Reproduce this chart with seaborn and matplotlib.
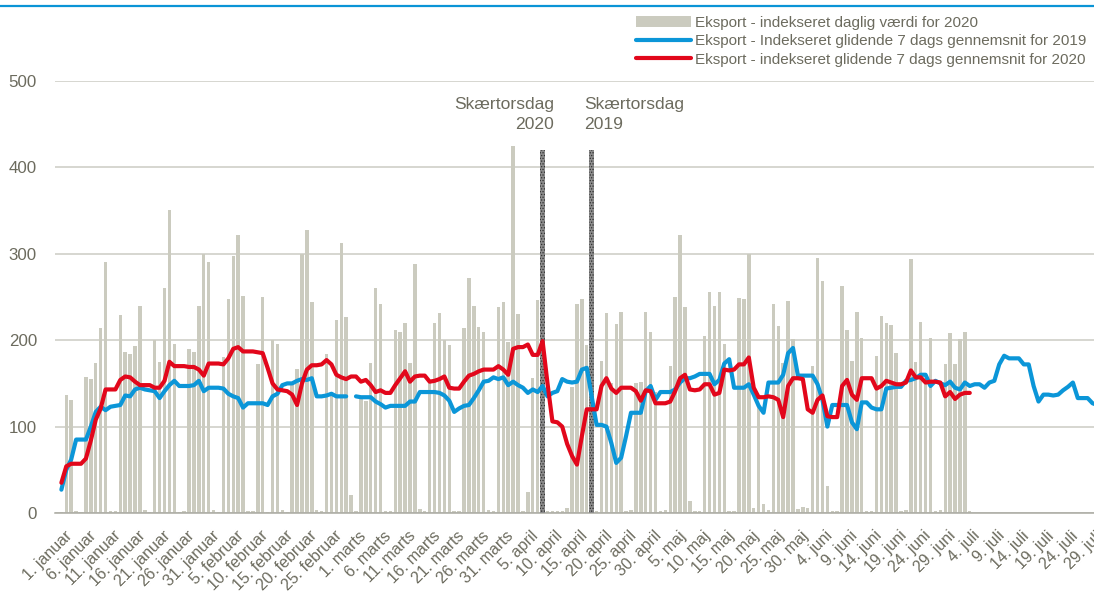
import matplotlib
matplotlib.use('Agg')
import matplotlib.pyplot as plt
from matplotlib.lines import Line2D
from matplotlib.patches import Patch
from matplotlib.transforms import ScaledTranslation
import seaborn as sns
import pandas as pd
import numpy as np

# daily export index 2020 (1 jan - 4 jul)
daily_2020 = [1, 137, 131, 2, 1, 157, 155, 174, 214, 290, 2, 2, 229, 186, 184, 193, 240, 3, 1, 200,
              175, 260, 351, 196, 1, 2, 190, 186, 240, 300, 291, 3, 1, 181, 248, 298, 322, 251, 2, 2,
              173, 250, 1, 200, 196, 3, 1, 150, 167, 300, 328, 244, 4, 2, 184, 140, 223, 313, 227, 21,
              2, 133, 130, 174, 260, 242, 2, 2, 212, 209, 220, 174, 288, 5, 2, 150, 220, 231, 200, 194,
              2, 2, 214, 272, 240, 215, 210, 3, 2, 238, 244, 198, 425, 230, 2, 24, 156, 247, 200, 2,
              2, 2, 2, 6, 146, 242, 248, 194, 2, 2, 176, 231, 150, 219, 233, 2, 3, 150, 152, 233,
              210, 140, 2, 3, 170, 250, 322, 239, 14, 2, 2, 205, 256, 240, 256, 196, 2, 2, 249, 248,
              300, 6, 125, 10, 3, 242, 217, 174, 245, 201, 5, 7, 6, 170, 295, 269, 31, 2, 2, 263,
              212, 176, 233, 202, 2, 2, 182, 228, 220, 218, 185, 2, 3, 294, 175, 221, 155, 203, 2, 3,
              172, 208, 173, 201, 210, 2]

# 7 day moving average 2020
avg_2020 = [35, 54, 57, 57, 57, 63, 84, 108, 121, 143, 143, 143, 154, 158, 157, 152, 148, 148, 148, 145,
            145, 153, 175, 170, 170, 170, 169, 169, 166, 159, 173, 173, 173, 172, 179, 190, 192, 187, 187, 187,
            186, 185, 168, 150, 143, 142, 141, 137, 125, 150, 166, 171, 171, 172, 177, 172, 160, 157, 155, 158,
            158, 152, 154, 148, 140, 142, 139, 139, 148, 156, 164, 152, 158, 159, 159, 152, 153, 155, 158, 145,
            144, 144, 152, 159, 161, 164, 166, 166, 166, 170, 166, 160, 190, 192, 192, 195, 183, 183, 199, 150,
            106, 105, 100, 80, 66, 56, 89, 120, 120, 120, 147, 156, 144, 139, 145, 145, 145, 141, 130, 142,
            141, 127, 127, 127, 129, 141, 156, 160, 143, 142, 143, 149, 149, 137, 139, 166, 165, 166, 172, 172,
            180, 145, 134, 134, 135, 134, 131, 111, 147, 156, 156, 155, 120, 116, 131, 136, 112, 111, 111, 147,
            154, 137, 131, 156, 156, 156, 144, 147, 153, 151, 149, 149, 151, 165, 157, 157, 151, 152, 152, 151,
            135, 140, 132, 137, 139, 139]

# 7 day moving average 2019 (no 29 feb)
avg_2019 = [27, 50, 62, 85, 85, 85, 100, 117, 123, 119, 123, 124, 125, 136, 135, 143, 145, 143, 142, 141,
            133, 141, 148, 153, 147, 147, 147, 148, 153, 141, 145, 145, 145, 144, 138, 135, 133, 122, 127, 127,
            127, 127, 125, 135, 138, 148, 150, 150, 153, 155, 154, 156, 135, 135, 136, 138, 135, 135, 135, np.nan,
            135, 134, 134, 134, 129, 126, 122, 124, 124, 124, 124, 129, 129, 140, 140, 140, 140, 139, 136, 130,
            117, 121, 124, 125, 133, 142, 152, 153, 157, 155, 157, 148, 152, 148, 145, 139, 143, 140, 147, 135,
            139, 141, 155, 152, 151, 152, 166, 168, 135, 102, 102, 100, 81, 58, 64, 89, 116, 116, 116, 141,
            147, 131, 140, 140, 140, 143, 151, 156, 156, 158, 161, 161, 161, 149, 154, 173, 178, 145, 145, 145,
            149, 137, 124, 116, 151, 151, 151, 160, 185, 191, 159, 159, 159, 159, 149, 131, 100, 125, 125, 125,
            125, 105, 97, 128, 128, 122, 120, 120, 144, 145, 146, 146, 153, 154, 156, 160, 160, 147, 153, 150,
            148, 152, 145, 143, 151, 147, 149, 149, 145, 151, 153, 172, 182, 179, 179, 179, 172, 172, 147, 129,
            137, 137, 136, 137, 142, 146, 151, 133, 133, 133, 127, 125]

tick_labels = ['1. januar', '6. januar', '11. januar', '16. januar', '21. januar', '26. januar',
               '31. januar', '5. februar', '10. februar', '15. februar', '20. februar', '25. februar',
               '1. marts', '6. marts', '11. marts', '16. marts', '21. marts', '26. marts', '31. marts',
               '5. april', '10. april', '15. april', '20. april', '25. april', '30. april',
               '5. maj', '10. maj', '15. maj', '20. maj', '25. maj', '30. maj',
               '4. juni', '9. juni', '14. juni', '19. juni', '24. juni', '29. juni',
               '4. juli', '9. juli', '14. juli', '19. juli', '24. juli', '29. juli']

skaertorsdag_days = [98, 108]
skaertorsdag_height = [420, 420]
skaertorsdag_text = ['Skærtorsdag\n2020', 'Skærtorsdag\n2019']

GREY_BAR = '#cbcbbf'
BLUE = '#0b96d8'
RED = '#e2071b'
TXT = '#6c6b5e'

sns.set_theme(style='white')
plt.rcParams['font.family'] = ['Liberation Sans', 'DejaVu Sans']
plt.rcParams['hatch.linewidth'] = 0.6

df_bar = pd.DataFrame({'day': np.arange(len(daily_2020)), 'val': daily_2020})
df_red = pd.DataFrame({'day': np.arange(len(avg_2020)), 'val': avg_2020})
df_blue = pd.DataFrame({'day': np.arange(len(avg_2019)), 'val': avg_2019})
# split the 2019 line at the missing leap day so it shows a gap
df_blue['seg'] = df_blue['val'].isna().cumsum()
df_blue = df_blue.dropna()

fig = plt.figure(figsize=(10.94, 5.96), dpi=100)
ax = fig.add_axes([55 / 1094, 83 / 596, 1039 / 1094, 432 / 596])

sns.barplot(data=df_bar, x='day', y='val', native_scale=True, width=0.7, color=GREY_BAR,
            saturation=1, errorbar=None, linewidth=0, ax=ax)

ax.bar(skaertorsdag_days, skaertorsdag_height, width=0.9, color='#8c8c8c', edgecolor='#2e2e2e',
       hatch='......', linewidth=0, zorder=3)

sns.lineplot(data=df_blue, x='day', y='val', units='seg', estimator=None, color=BLUE,
             linewidth=3.0, solid_joinstyle='round', ax=ax, zorder=4)
sns.lineplot(data=df_red, x='day', y='val', color=RED, linewidth=3.0,
             solid_joinstyle='round', ax=ax, zorder=5)

ax.text(100.3, 481, skaertorsdag_text[0], ha='right', va='top', fontsize=12.6,
        color=TXT, linespacing=1.35)
ax.text(106.4, 481, skaertorsdag_text[1], ha='left', va='top', fontsize=12.6,
        color=TXT, linespacing=1.35)

ax.set_xlim(-1.3, 210.3)
ax.set_ylim(0, 500)
ax.set_yticks(range(0, 501, 100))
ax.set_xticks(np.arange(len(tick_labels)) * 5)
ax.set_xticklabels(tick_labels, rotation=45, ha='right', va='center', rotation_mode='anchor')
ax.tick_params(axis='x', length=0, pad=9, labelsize=11.5, labelcolor=TXT)
ax.tick_params(axis='y', length=0, pad=13, labelsize=12.2, labelcolor=TXT)
ax.set_xlabel('')
ax.set_ylabel('')

# nudge the slanted date labels down/right like the original
shift = ScaledTranslation(0.08, -0.08, fig.dpi_scale_trans)
for lab in ax.get_xticklabels():
    lab.set_transform(lab.get_transform() + shift)

ax.yaxis.grid(True, color='#cbcbc3', linewidth=1.1)
ax.xaxis.grid(False)
ax.set_axisbelow(True)
for s in ['top', 'right', 'left']:
    ax.spines[s].set_visible(False)
ax.spines['bottom'].set_color('#a9a9a1')
ax.spines['bottom'].set_linewidth(1.1)

handles = [Patch(facecolor=GREY_BAR, edgecolor='none'),
           Line2D([0], [0], color=BLUE, linewidth=3.0, solid_capstyle='round'),
           Line2D([0], [0], color=RED, linewidth=3.0, solid_capstyle='round')]
labels = ['Eksport - indekseret daglig værdi for 2020',
          'Eksport - Indekseret glidende 7 dags gennemsnit for 2019',
          'Eksport - indekseret glidende 7 dags gennemsnit for 2020']
leg = fig.legend(handles, labels, loc='upper left', bbox_to_anchor=(636 / 1094, 1 - 16 / 596),
                 frameon=False, fontsize=11, handlelength=3.6, handletextpad=0.25,
                 labelspacing=0.28, borderpad=0, borderaxespad=0)
for t in leg.get_texts():
    t.set_color(TXT)

fig.add_artist(Line2D([0, 1], [1 - 5.5 / 596, 1 - 5.5 / 596], transform=fig.transFigure,
                      color='#0a94d6', linewidth=1.6))

fig.savefig('out.png', dpi=100)
